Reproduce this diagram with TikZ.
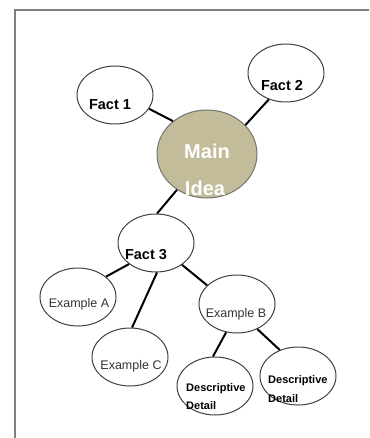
\documentclass[tikz,border=0pt]{standalone}
\usepackage{fontspec}
\setmainfont{Liberation Sans}
\usetikzlibrary{shapes.geometric}
\definecolor{ideatan}{RGB}{195,188,155}
\tikzset{
    bubble/.style={ellipse,draw=black!75,line width=1pt,minimum width=76pt,minimum height=58pt,inner sep=0pt},
    mainbubble/.style={ellipse,draw=black!55,line width=1pt,fill=ideatan,minimum width=100pt,minimum height=88pt,inner sep=0pt},
    facttext/.style={font=\fontsize{14.5}{16}\selectfont\bfseries,inner sep=0pt,anchor=base},
    exampletext/.style={font=\fontsize{12.5}{14}\selectfont,text=black!80,inner sep=0pt,anchor=base},
    detailtext/.style={font=\fontsize{11}{12}\selectfont\bfseries,inner sep=0pt,anchor=base west},
    maintext/.style={font=\fontsize{20}{22}\selectfont\bfseries,text=white,inner sep=0pt,anchor=base},
    mapline/.style={line width=2pt},
    frameline/.style={draw=black!50,line width=2pt}
}

\begin{document}
\begin{tikzpicture}[x=1pt,y=-1pt]
    \useasboundingbox (0,0) rectangle (369,438);
    \draw[frameline] (369,10) -- (15,10) -- (15,438);
    % bubbles
    \node[mainbubble] (main) at (207,154) {};
    \node[bubble] (fact1) at (115,95) {};
    \node[bubble] (fact2) at (286,73) {};
    \node[bubble] (fact3) at (156,243) {};
    \node[bubble] (exa) at (78,297) {};
    \node[bubble] (exc) at (130,357) {};
    \node[bubble] (exb) at (237,304) {};
    \node[bubble] (detail1) at (215,386) {};
    \node[bubble] (detail2) at (298,376) {};
    % labels
    \node[maintext] (mainw1) at (207,159) {Main};
    \node[maintext] (mainw2) at (205,195) {Idea};
    \node[facttext] (fact1t) at (110,110) {Fact 1};
    \node[facttext] (fact2t) at (282,91) {Fact 2};
    \node[facttext] (fact3t) at (146,259) {Fact 3};
    \node[exampletext] (exat) at (79,307) {Example A};
    \node[exampletext] (exbt) at (236,317) {Example B};
    \node[exampletext] (exct) at (131,369) {Example C};
    \node[detailtext] (detail1a) at (186,391) {Descriptive};
    \node[detailtext] (detail1b) at (186,409) {Detail};
    \node[detailtext] (detail2a) at (268,383) {Descriptive};
    \node[detailtext] (detail2b) at (268,402) {Detail};
    % links
    \draw[mapline] (fact1.338) -- (main.136);
    \draw[mapline] (fact2.237) -- (main.37);
    \draw[mapline] (main.230) -- (fact3.88);
    \draw[mapline] (fact3.218) -- (exa.36);
    \draw[mapline] (fact3.272) -- (exc.86);
    \draw[mapline] (fact3.320) -- (exb.148);
    \draw[mapline] (exb.249) -- (detail1.94);
    \draw[mapline] (exb.309) -- (detail2.125);
\end{tikzpicture}
\end{document}
